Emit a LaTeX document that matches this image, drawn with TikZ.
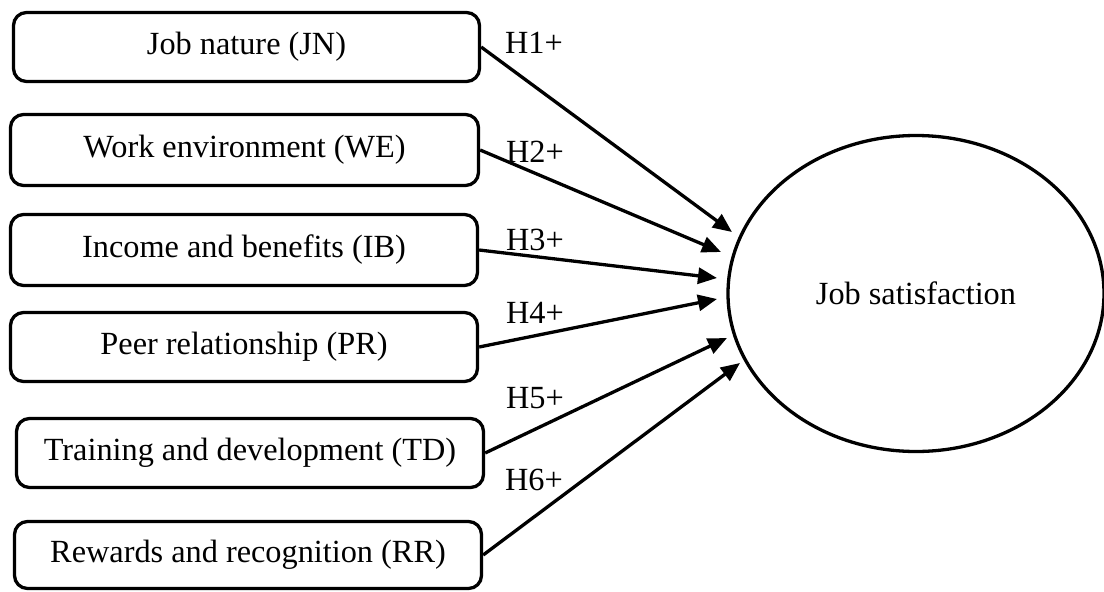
\documentclass[tikz,border=0pt]{standalone}
\usepackage{fontspec}
\setmainfont{Liberation Serif}
\usetikzlibrary{shapes.geometric,arrows.meta}
\tikzset{
  fbox/.style={draw=black, line width=3.3pt, rounded corners=13pt, inner sep=0pt, align=center},
  conn/.style={line width=3.3pt, -{Triangle[length=19pt,width=16pt]}},
  hlab/.style={inner sep=0pt},
  outc/.style={draw=black, line width=3.3pt, ellipse, inner sep=0pt, minimum width=376pt, minimum height=316pt}
}
\begin{document}
\begin{tikzpicture}[x=1pt,y=-1pt, font=\fontsize{32.3}{38}\selectfont]
\useasboundingbox (0,0) rectangle (1104,592);
\node[fbox, minimum width=466pt, minimum height=69pt] (jn) at (246.5,47) {Job nature (JN)};
\node[fbox, minimum width=468pt, minimum height=71pt] (we) at (244.5,150) {Work environment (WE)};
\node[fbox, minimum width=467pt, minimum height=71pt] (ib) at (244,250) {Income and benefits (IB)};
\node[fbox, minimum width=467pt, minimum height=69pt] (pr) at (244,347) {Peer relationship (PR)};
\node[fbox, minimum width=467pt, minimum height=69pt] (td) at (250,453) {Training and development (TD)};
\node[fbox, minimum width=467pt, minimum height=67pt] (rr) at (248,555) {Rewards and recognition (RR)};
\node[outc] (js) at (916,293.5) {Job satisfaction};
\coordinate (t1) at (732,232);
\coordinate (t2) at (721,252);
\coordinate (t3) at (717,278);
\coordinate (t4) at (717,299);
\coordinate (t5) at (727,338);
\coordinate (t6) at (740,363);
\draw[conn] (jn.east) -- (t1);
\draw[conn] (we.east) -- (t2);
\draw[conn] (ib.east) -- (t3);
\draw[conn] (pr.east) -- (t4);
\draw[conn] (td.east) -- (t5);
\draw[conn] (rr.east) -- (t6);
\node[hlab] (h1) at (534,43) {H1+};
\node[hlab] (h2) at (535,152) {H2+};
\node[hlab] (h3) at (535,240) {H3+};
\node[hlab] (h4) at (535,313) {H4+};
\node[hlab] (h5) at (535,398) {H5+};
\node[hlab] (h6) at (534,480) {H6+};
\end{tikzpicture}
\end{document}
